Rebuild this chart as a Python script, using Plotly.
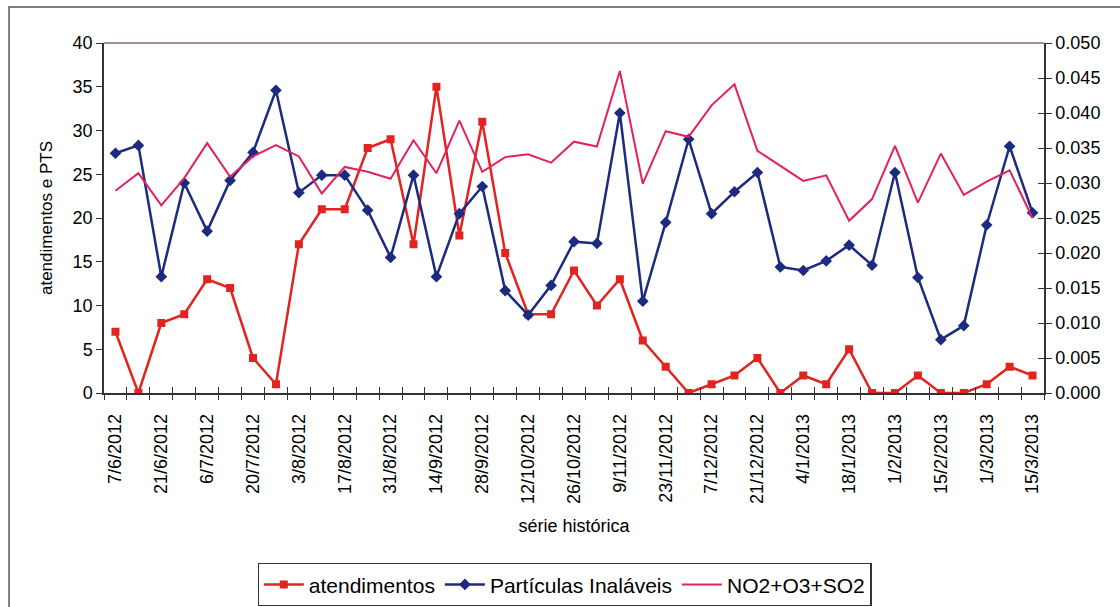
import plotly.graph_objects as go

# Weekly sampling dates (labels shown every second week)
datas = [
    "7/6/2012", "14/6/2012", "21/6/2012", "29/6/2012", "6/7/2012", "13/7/2012",
    "20/7/2012", "27/7/2012", "3/8/2012", "10/8/2012", "17/8/2012", "24/8/2012",
    "31/8/2012", "7/9/2012", "14/9/2012", "21/9/2012", "28/9/2012", "5/10/2012",
    "12/10/2012", "19/10/2012", "26/10/2012", "2/11/2012", "9/11/2012", "16/11/2012",
    "23/11/2012", "30/11/2012", "7/12/2012", "14/12/2012", "21/12/2012", "28/12/2012",
    "4/1/2013", "11/1/2013", "18/1/2013", "25/1/2013", "1/2/2013", "8/2/2013",
    "15/2/2013", "22/2/2013", "1/3/2013", "8/3/2013", "15/3/2013",
]

atendimentos = [
    7, 0, 8, 9, 13, 12, 4, 1, 17, 21, 21, 28, 29, 17, 35, 18, 31, 16, 9, 9, 14,
    10, 13, 6, 3, 0, 1, 2, 4, 0, 2, 1, 5, 0, 0, 2, 0, 0, 1, 3, 2,
]

particulas = [
    27.4, 28.3, 13.3, 24.0, 18.5, 24.3, 27.5, 34.6, 22.9, 24.9, 24.9, 20.9,
    15.5, 24.9, 13.3, 20.5, 23.6, 11.7, 8.9, 12.3, 17.3, 17.1, 32.0, 10.5,
    19.5, 29.0, 20.5, 23.0, 25.2, 14.4, 14.0, 15.1, 16.9, 14.6, 25.2, 13.2,
    6.1, 7.7, 19.2, 28.2, 20.6,
]

no2_o3_so2 = [
    0.0289, 0.0314, 0.0268, 0.0307, 0.0357, 0.0309, 0.0338, 0.0354, 0.0338,
    0.0285, 0.0323, 0.0316, 0.0306, 0.0361, 0.0314, 0.0389, 0.0316, 0.0337,
    0.0341, 0.0329, 0.0359, 0.0352, 0.0460, 0.0299, 0.0374, 0.0366, 0.0411,
    0.0441, 0.0346, 0.0325, 0.0303, 0.0311, 0.0246, 0.0277, 0.0353, 0.0272,
    0.0342, 0.0283, 0.0302, 0.0318, 0.0250,
]

RED = "#E2231F"
BLUE = "#1C2B80"
PINK = "#E4205E"
FONT = "Liberation Sans, Arial, sans-serif"

n = len(datas)
rotulos = datas[::2]

fig = go.Figure()

fig.add_trace(go.Scatter(
    x=datas, y=atendimentos, name="atendimentos", mode="lines+markers",
    line=dict(color=RED, width=2.5),
    marker=dict(symbol="square", size=8, color=RED),
))
fig.add_trace(go.Scatter(
    x=datas, y=particulas, name="Partículas Inaláveis", mode="lines+markers",
    line=dict(color=BLUE, width=2.5),
    marker=dict(symbol="diamond", size=9, color=BLUE),
))
fig.add_trace(go.Scatter(
    x=datas, y=no2_o3_so2, name="NO2+O3+SO2", mode="lines", yaxis="y2",
    line=dict(color=PINK, width=2),
))

# Tick marks sit on the boundaries between categories and cross the axis line
bordas = [i - 0.5 for i in range(n + 1)]
faixa = [-0.5, n - 0.5]

fig.update_layout(
    width=1120, height=607,
    margin=dict(l=104, r=76, t=43, b=214, autoexpand=False),
    paper_bgcolor="white", plot_bgcolor="white",
    font=dict(family=FONT, color="black"),
    showlegend=True,
    legend=dict(
        orientation="h", x=0.49, xanchor="center", y=-0.486, yanchor="top",
        bordercolor="#333333", borderwidth=1.2,
        font=dict(size=21, family=FONT),
        itemwidth=40, tracegroupgap=0,
    ),
    xaxis=dict(
        type="category", range=faixa, tickmode="array", tickvals=rotulos,
        tickangle=-90, tickfont=dict(size=18), ticks="", ticklabelstandoff=12,
        showline=True, linecolor="#333333", linewidth=1.5,
        showgrid=False, zeroline=False,
        title=dict(text="série histórica", font=dict(size=18), standoff=16),
    ),
    xaxis2=dict(
        overlaying="x", range=faixa, tickmode="array", tickvals=bordas,
        ticks="outside", ticklen=6, tickcolor="#333333", tickwidth=1.3,
        showticklabels=False, showgrid=False, zeroline=False, showline=False,
    ),
    xaxis3=dict(
        overlaying="x", range=faixa, tickmode="array", tickvals=bordas,
        ticks="inside", ticklen=6, tickcolor="#333333", tickwidth=1.3,
        showticklabels=False, showgrid=False, zeroline=False, showline=False,
    ),
    yaxis=dict(
        range=[0, 40], dtick=5, tick0=0,
        ticks="outside", ticklen=6, tickcolor="#333333", tickwidth=1.3,
        tickfont=dict(size=18),
        showline=True, linecolor="#333333", linewidth=1.5,
        showgrid=False, zeroline=False,
        title=dict(text="atendimentos e PTS", font=dict(size=17), standoff=16),
    ),
    yaxis2=dict(
        overlaying="y", side="right", range=[0, 0.05], dtick=0.005, tick0=0,
        tickformat=".3f", ticks="outside", ticklen=6, tickcolor="#333333",
        tickwidth=1.3, tickfont=dict(size=18),
        showline=True, linecolor="#333333", linewidth=1.5,
        showgrid=False, zeroline=False,
    ),
    yaxis3=dict(
        overlaying="y", side="right", range=[0, 0.05], dtick=0.005, tick0=0,
        ticks="inside", ticklen=6, tickcolor="#333333", tickwidth=1.3,
        showticklabels=False, showgrid=False, zeroline=False, showline=False,
    ),
    shapes=[
        # top border of the plot area
        dict(type="line", xref="paper", yref="paper", x0=0, x1=1, y0=1, y1=1,
             line=dict(color="#8A6474", width=1.5)),
        # outer chart frame
        dict(type="rect", xref="paper", yref="paper",
             x0=-0.101, x1=1.09, y0=-0.64, y1=1.103,
             line=dict(color="#555555", width=1.5)),
    ],
)

# Empty helper traces so the overlay tick axes are rendered
for ax in ("x2", "x3"):
    fig.add_trace(go.Scatter(x=[], y=[], xaxis=ax, showlegend=False, hoverinfo="skip"))
fig.add_trace(go.Scatter(x=[], y=[], yaxis="y3", showlegend=False, hoverinfo="skip"))

fig.write_html("out.html")
